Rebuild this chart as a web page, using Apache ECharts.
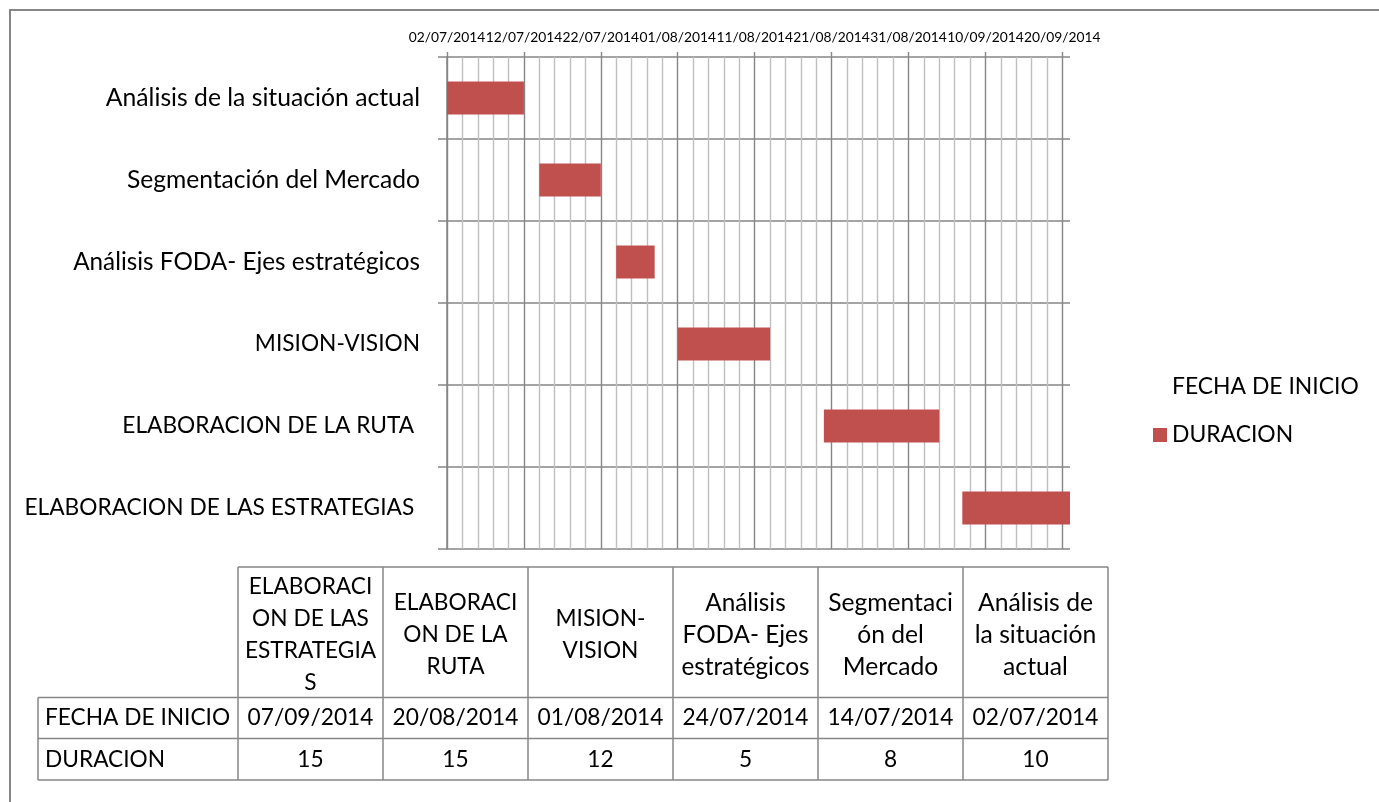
<!DOCTYPE html>
<html><head><meta charset="utf-8">
<script src="https://cdn.jsdelivr.net/npm/echarts@6/dist/echarts.min.js"></script>
<style>html,body{margin:0;padding:0;background:#fff}#chart{width:1379px;height:802px}</style>
</head><body><div id="chart"></div>
<script>
// ---- data ----
const categories = ['ELABORACION DE LAS ESTRATEGIAS ', 'ELABORACION DE LA RUTA ', 'MISION-VISION', 'Análisis FODA- Ejes estratégicos', 'Segmentación del Mercado', 'Análisis de la situación actual'];
const startDates = ['07/09/2014', '20/08/2014', '01/08/2014', '24/07/2014', '14/07/2014', '02/07/2014'];
const durations = [15, 15, 12, 5, 8, 10];
const tableHeaders = ['ELABORACI\nON DE LAS\nESTRATEGIA\nS', 'ELABORACI\nON DE LA\nRUTA', 'MISION-\nVISION', 'Análisis\nFODA- Ejes\nestratégicos', 'Segmentaci\nón del\nMercado', 'Análisis de\nla situación\nactual'];
const seriesNames = ['FECHA DE INICIO', 'DURACION'];
const axisStartDate = '02/07/2014';
const axisMaxDays = 81;
const tickDays = [0, 10, 20, 30, 40, 50, 60, 70, 80];

// ---- helpers ----
const DAY = 86400000;
function parseDMY(s) { const p = s.split('/'); return Date.UTC(+p[2], +p[1] - 1, +p[0]); }
const origin = parseDMY(axisStartDate);
function toDays(s) { return (parseDMY(s) - origin) / DAY; }
function fmtDays(v) {
  const d = new Date(origin + v * DAY);
  const dd = String(d.getUTCDate()).padStart(2, '0');
  const mm = String(d.getUTCMonth() + 1).padStart(2, '0');
  return dd + '/' + mm + '/' + d.getUTCFullYear();
}
const startOffsets = startDates.map(toDays);

// ---- layout/style ----
const FONT = 'Lato';
// Lato substitutes for Calibri: capitals/digits are relatively wider, so size by case mix
function fitSize(s) {
  const chars = s.replace(/\s/g, '').split('');
  const notLower = chars.filter(c => !(c >= 'a' && c <= 'z') && 'áéíóú'.indexOf(c) < 0).length;
  return +(24.8 - 2.1 * notLower / Math.max(1, chars.length)).toFixed(2);
}
const GRID = '#868686';
const MINOR = '#bfbfbf';
const gridL = 447, gridR = 1070, gridT = 57, gridB = 549;

// table layout
const tblLeft = 238, colW = 145, lblLeft = 38;
const hTop = 567, hBot = 697.5, r1Bot = 738.5, r2Bot = 780;
const tblRight = tblLeft + colW * tableHeaders.length;

const g = [];
const lineStyle = { stroke: GRID, lineWidth: 1.5 };
function hline(x1, x2, y) { g.push({ type: 'line', shape: { x1, y1: y, x2, y2: y }, style: lineStyle, silent: true }); }
function vline(x, y1, y2) { g.push({ type: 'line', shape: { x1: x, y1, x2: x, y2 }, style: lineStyle, silent: true }); }
hline(tblLeft, tblRight, hTop);
hline(lblLeft, tblRight, hBot);
hline(lblLeft, tblRight, r1Bot);
hline(lblLeft, tblRight, r2Bot);
vline(lblLeft, hBot, r2Bot);
for (let i = 0; i <= tableHeaders.length; i++) vline(tblLeft + i * colW, hTop, r2Bot);
const txt = (x, y, text, align) => g.push({ type: 'text', x, y, silent: true, style: { text, fill: '#000', font: fitSize(text) + 'px ' + FONT, align: align || 'center', verticalAlign: 'middle', lineHeight: 32 } });
tableHeaders.forEach((h, i) => txt(tblLeft + colW * (i + 0.5), (hTop + hBot) / 2 + 2.5, h));
txt(lblLeft + 7, (hBot + r1Bot) / 2, seriesNames[0], 'left');
txt(lblLeft + 7, (r1Bot + r2Bot) / 2, seriesNames[1], 'left');
startDates.forEach((d, i) => txt(tblLeft + colW * (i + 0.5), (hBot + r1Bot) / 2, d));
durations.forEach((d, i) => txt(tblLeft + colW * (i + 0.5), (r1Bot + r2Bot) / 2, String(d)));
// outer chart border
g.push({ type: 'rect', shape: { x: 10, y: 10, width: 1400, height: 1000 }, style: { fill: 'none', stroke: GRID, lineWidth: 2 }, silent: true });

const rich = {};
categories.forEach((c, i) => { rich['c' + i] = { fontSize: fitSize(c), fontFamily: FONT, color: '#000' }; });

const chart = echarts.init(document.getElementById('chart'), null, { renderer: 'canvas' });
chart.setOption({
  animation: false,
  backgroundColor: '#fff',
  textStyle: { fontFamily: FONT },
  grid: { left: gridL, right: 1379 - gridR, top: gridT, bottom: 802 - gridB, containLabel: false },
  legend: {
    data: seriesNames, orient: 'vertical', left: 1148, top: 367, itemGap: 18,
    itemWidth: 14, itemHeight: 14, icon: 'rect',
    formatter: n => '{n|' + n + '}',
    textStyle: { color: '#000', fontFamily: FONT, lineHeight: 30, rich: { n: { fontSize: 22.9, fontFamily: FONT, color: '#000', lineHeight: 30 } } }
  },
  xAxis: [
    {
      type: 'value', position: 'top', min: 0, max: axisMaxDays, interval: 2,
      axisLine: { show: false }, axisTick: { show: false }, axisLabel: { show: false },
      splitLine: { show: true, showMaxLine: false, lineStyle: { color: [GRID, MINOR, MINOR, MINOR, MINOR], width: 1.4 } }
    },
    {
      type: 'value', position: 'top', min: 0, max: axisMaxDays, interval: 10,
      axisLine: { show: false },
      axisTick: { show: true, length: 5, customValues: tickDays, lineStyle: { color: GRID, width: 1.4 } },
      axisLabel: { show: true, customValues: tickDays, showMinLabel: true, showMaxLabel: true, hideOverlap: false, margin: 12, fontSize: 13.8, color: '#000', fontFamily: FONT, formatter: v => (tickDays.indexOf(v) >= 0 ? fmtDays(v) : '') },
      splitLine: { show: false }
    }
  ],
  yAxis: {
    type: 'category', data: categories,
    axisLine: { show: true, lineStyle: { color: GRID, width: 1.5 } },
    axisTick: { show: true, length: 9, lineStyle: { color: GRID, width: 1.5 } },
    axisLabel: { color: '#000', margin: 27, fontFamily: FONT, formatter: (v, i) => '{c' + i + '|' + v + '}', rich },
    splitLine: { show: true, lineStyle: { color: GRID, width: 1.5 } }
  },
  series: [
    { name: seriesNames[0], type: 'bar', stack: 'g', xAxisIndex: 0, data: startOffsets, barWidth: 33, itemStyle: { color: 'rgba(0,0,0,0)' }, silent: true },
    { name: seriesNames[1], type: 'bar', stack: 'g', xAxisIndex: 0, data: durations, barWidth: 33, itemStyle: { color: '#C0504D' } }
  ],
  graphic: g
});
</script>
</body></html>
